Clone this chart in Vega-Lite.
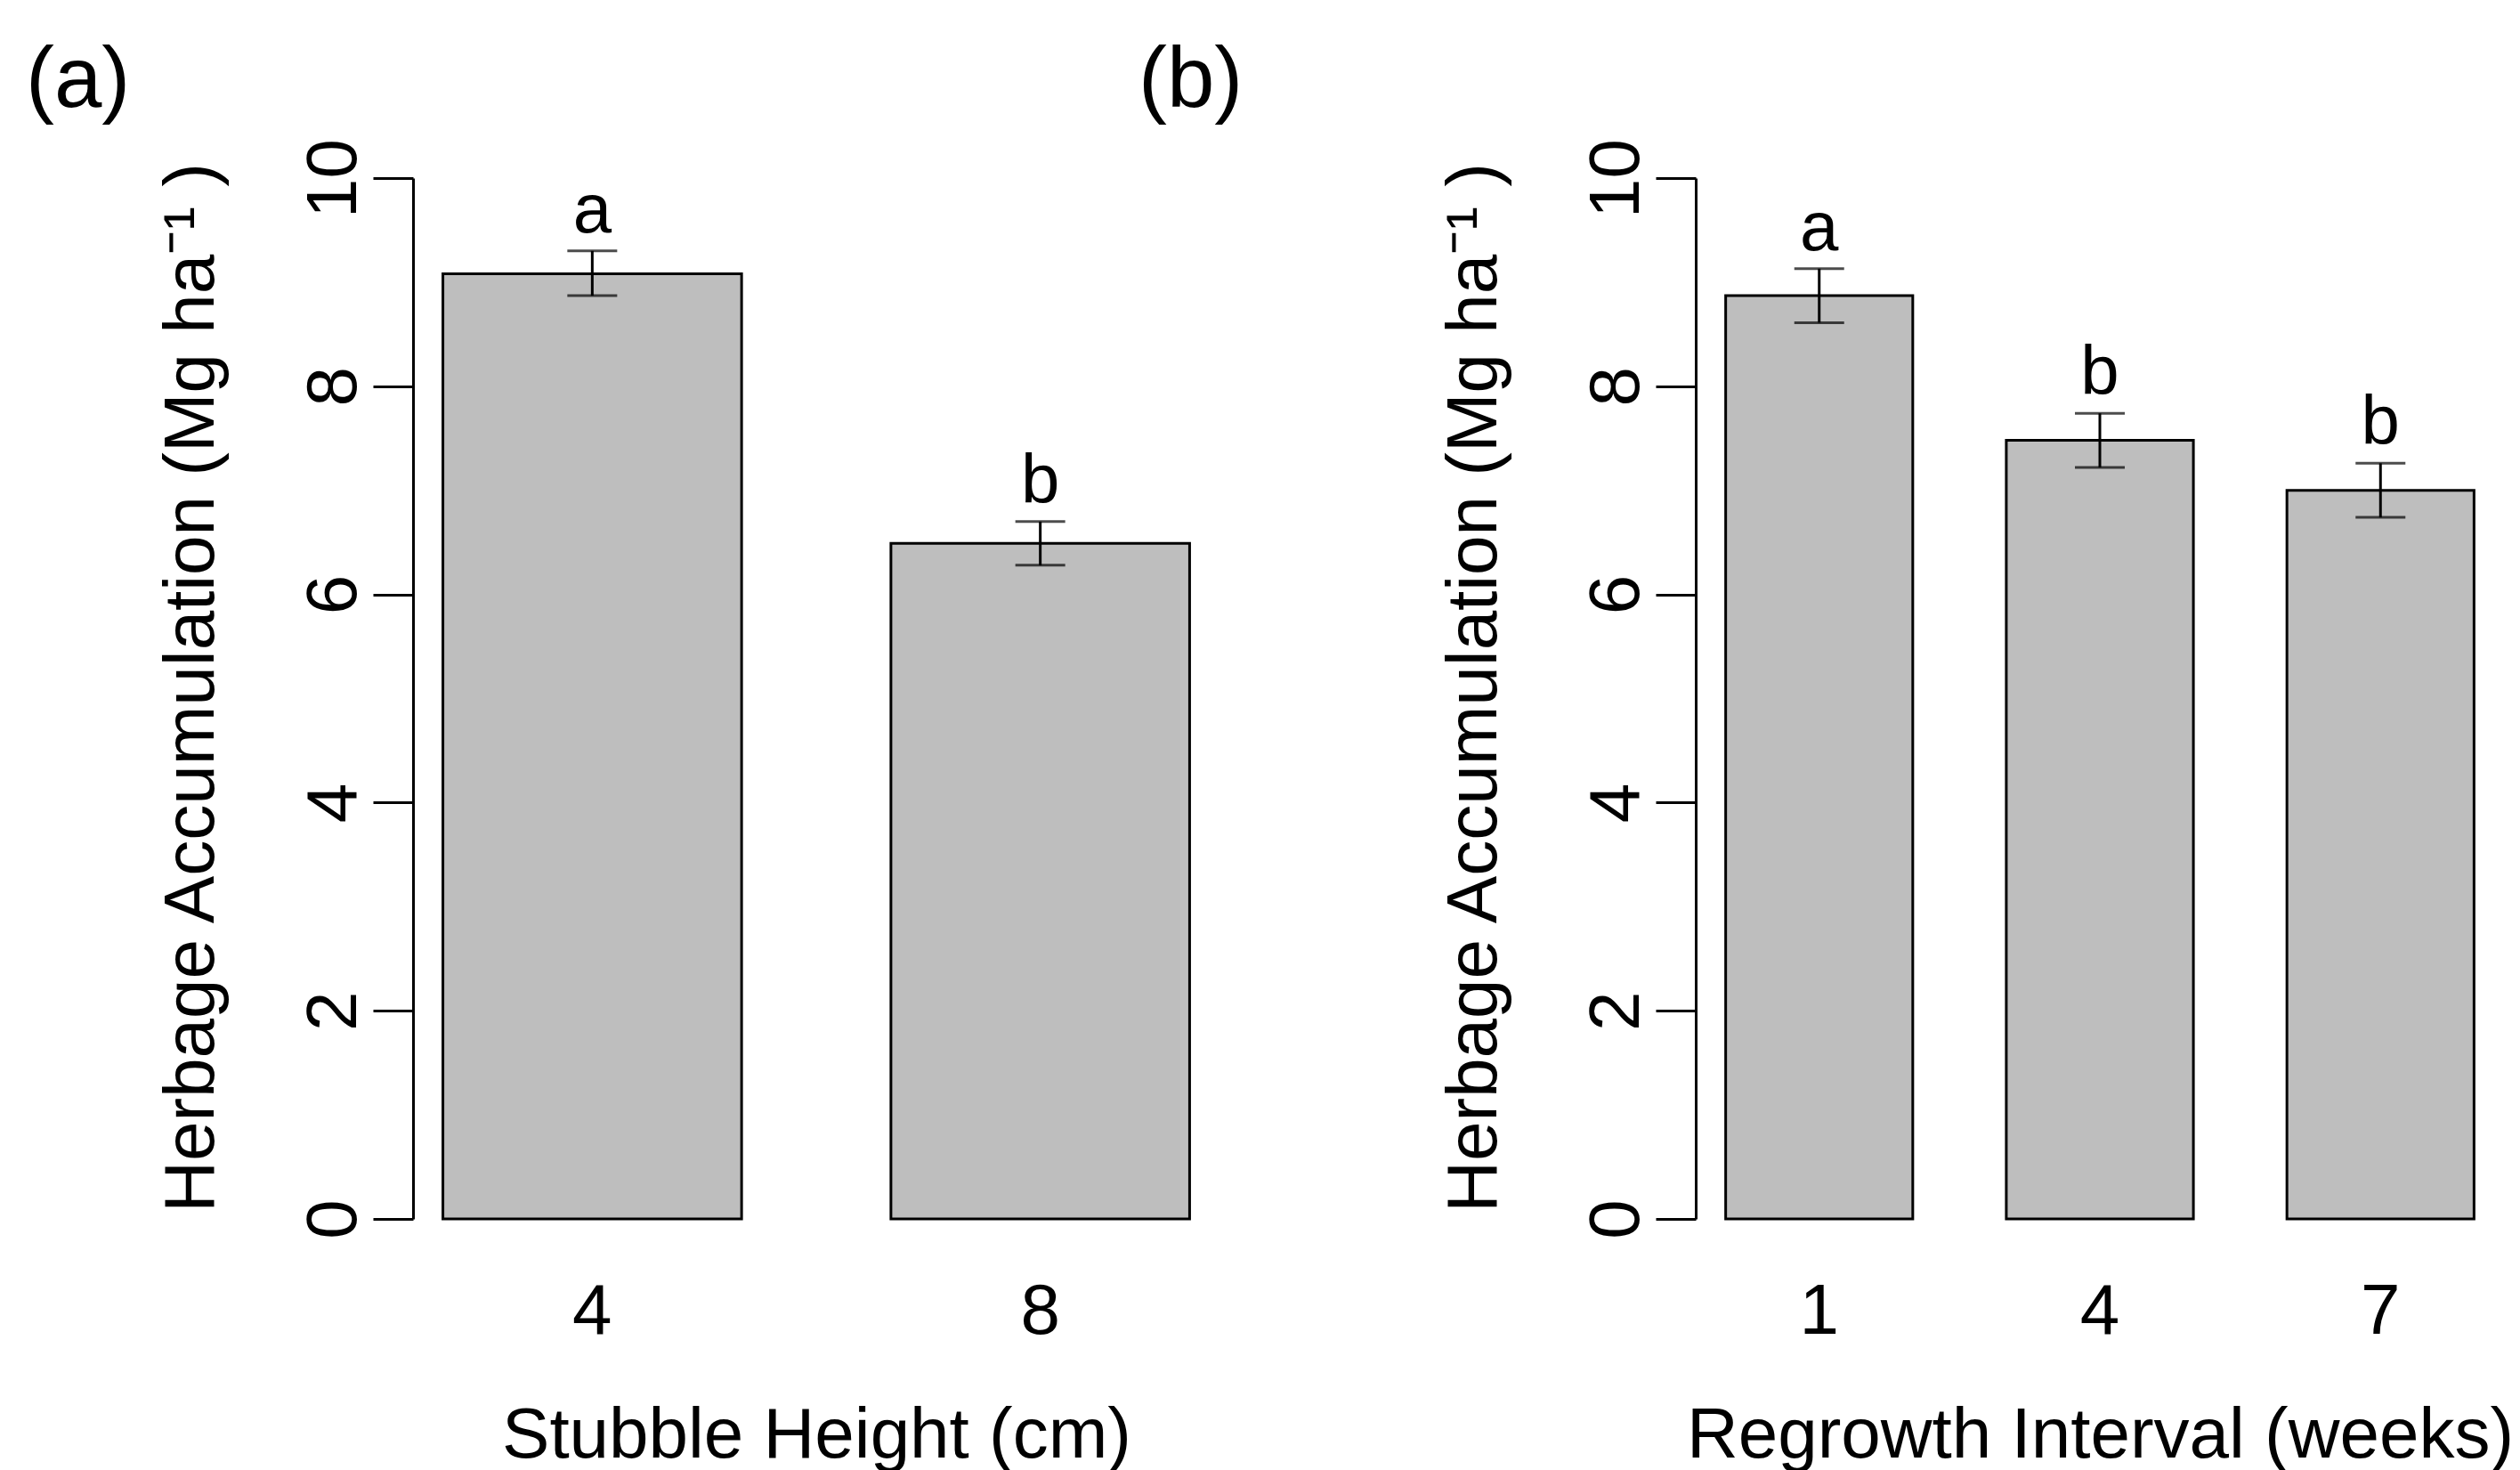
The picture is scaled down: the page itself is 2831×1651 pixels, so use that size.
{
  "$schema": "https://vega.github.io/schema/vega-lite/v6.json",
  "background": "white",
  "padding": {"left": 29, "top": 42, "right": 0, "bottom": 0},
  "bounds": "flush",
  "spacing": 535,
  "config": {
    "view": {"stroke": null},
    "font": "Liberation Sans",
    "axisX": {
      "labelFontSize": 80, "labelPadding": 65, "ticks": false, "tickSize": 0, "domain": false,
      "labelAngle": 0, "labelColor": "black", "grid": false,
      "titleFontSize": 80, "titleFontWeight": "normal", "titleColor": "black",
      "titleY": 204, "titleBaseline": "top"
    },
    "axisY": {
      "labelFontSize": 80, "labelAngle": 270, "labelAlign": "center", "labelBaseline": "alphabetic",
      "labelPadding": 20, "labelColor": "black", "tickSize": 45, "tickWidth": 3, "tickColor": "black",
      "domainWidth": 3, "domainColor": "black", "grid": false, "labelOverlap": false,
      "titleFontSize": 80, "titleFontWeight": "normal", "titleColor": "black",
      "titleAngle": 270, "titleAlign": "center", "titleBaseline": "alphabetic",
      "titleX": -225, "titleY": 572
    },
    "title": {"fontSize": 96, "fontWeight": "normal", "color": "black", "font": "Liberation Sans"}
  },
  "hconcat": [
    {
      "width": 906, "height": 1169,
      "title": {"text": "(a)", "anchor": "start", "frame": "group", "dx": -435, "baseline": "alphabetic", "offset": -60},
      "data": {"values": [
        {"height": "4", "mean": 9.08, "lo": 8.87, "hi": 9.30, "lab": "a"},
        {"height": "8", "mean": 6.49, "lo": 6.28, "hi": 6.70, "lab": "b"}
      ]},
      "encoding": {
        "x": {"field": "height", "type": "nominal", "sort": null, "title": "Stubble Height (cm)",
              "scale": {"paddingInner": 0.3333, "paddingOuter": 0.0667}}
      },
      "layer": [
        {"mark": {"type": "bar", "fill": "#bebebe", "stroke": "black", "strokeWidth": 3},
         "encoding": {"y": {"field": "mean", "type": "quantitative", "title": "Herbage Accumulation (Mg ha⁻¹ )",
                            "scale": {"domain": [0, 10]}, "axis": {"values": [0, 2, 4, 6, 8, 10], "format": "d"}}}},
        {"mark": {"type": "rule", "strokeWidth": 3, "color": "black"},
         "encoding": {"y": {"field": "lo", "type": "quantitative", "title": "Herbage Accumulation (Mg ha⁻¹ )"}, "y2": {"field": "hi"}}},
        {"mark": {"type": "tick", "size": 56, "thickness": 3, "color": "black"},
         "encoding": {"y": {"field": "lo", "type": "quantitative", "title": "Herbage Accumulation (Mg ha⁻¹ )"}}},
        {"mark": {"type": "tick", "size": 56, "thickness": 3, "color": "black"},
         "encoding": {"y": {"field": "hi", "type": "quantitative", "title": "Herbage Accumulation (Mg ha⁻¹ )"}}},
        {"mark": {"type": "text", "fontSize": 78, "dy": -21, "baseline": "alphabetic", "color": "black"},
         "encoding": {"y": {"field": "hi", "type": "quantitative", "title": "Herbage Accumulation (Mg ha⁻¹ )"}, "text": {"field": "lab"}}}
      ]
    },
    {
      "width": 908, "height": 1169,
      "title": {"text": "(b)", "anchor": "start", "frame": "group", "dx": -626, "baseline": "alphabetic", "offset": -60},
      "data": {"values": [
        {"interval": "1", "mean": 8.87, "lo": 8.61, "hi": 9.13, "lab": "a"},
        {"interval": "4", "mean": 7.48, "lo": 7.22, "hi": 7.74, "lab": "b"},
        {"interval": "7", "mean": 7.00, "lo": 6.74, "hi": 7.26, "lab": "b"}
      ]},
      "encoding": {
        "x": {"field": "interval", "type": "nominal", "sort": null, "title": "Regrowth Interval (weeks)",
              "scale": {"paddingInner": 0.3333, "paddingOuter": 0.1067}}
      },
      "layer": [
        {"mark": {"type": "bar", "fill": "#bebebe", "stroke": "black", "strokeWidth": 3},
         "encoding": {"y": {"field": "mean", "type": "quantitative", "title": "Herbage Accumulation (Mg ha⁻¹ )",
                            "scale": {"domain": [0, 10]}, "axis": {"values": [0, 2, 4, 6, 8, 10], "format": "d"}}}},
        {"mark": {"type": "rule", "strokeWidth": 3, "color": "black"},
         "encoding": {"y": {"field": "lo", "type": "quantitative", "title": "Herbage Accumulation (Mg ha⁻¹ )"}, "y2": {"field": "hi"}}},
        {"mark": {"type": "tick", "size": 56, "thickness": 3, "color": "black"},
         "encoding": {"y": {"field": "lo", "type": "quantitative", "title": "Herbage Accumulation (Mg ha⁻¹ )"}}},
        {"mark": {"type": "tick", "size": 56, "thickness": 3, "color": "black"},
         "encoding": {"y": {"field": "hi", "type": "quantitative", "title": "Herbage Accumulation (Mg ha⁻¹ )"}}},
        {"mark": {"type": "text", "fontSize": 78, "dy": -21, "baseline": "alphabetic", "color": "black"},
         "encoding": {"y": {"field": "hi", "type": "quantitative", "title": "Herbage Accumulation (Mg ha⁻¹ )"}, "text": {"field": "lab"}}}
      ]
    }
  ]
}
